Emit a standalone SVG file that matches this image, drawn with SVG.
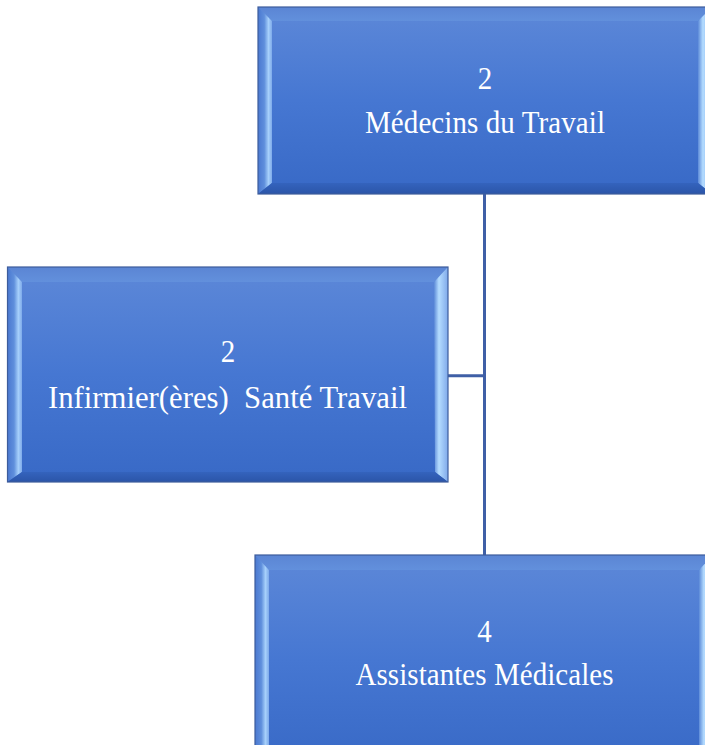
<svg xmlns="http://www.w3.org/2000/svg" width="705" height="745" viewBox="0 0 705 745">
  <defs>
    <linearGradient id="face" x1="0" y1="0" x2="0" y2="1">
      <stop offset="0" stop-color="#5d88d8"/>
      <stop offset="0.5" stop-color="#4677d2"/>
      <stop offset="1" stop-color="#3869c6"/>
    </linearGradient>
    <linearGradient id="bevL" x1="0" y1="0" x2="1" y2="0">
      <stop offset="0" stop-color="#4a78d0"/>
      <stop offset="0.45" stop-color="#5f8fdc"/>
      <stop offset="0.75" stop-color="#a6d0fb"/>
      <stop offset="1" stop-color="#7eaaea"/>
    </linearGradient>
    <linearGradient id="bevR" x1="0" y1="0" x2="1" y2="0">
      <stop offset="0" stop-color="#5c8ad8"/>
      <stop offset="0.35" stop-color="#b4dcff"/>
      <stop offset="1" stop-color="#7fa9ea"/>
    </linearGradient>
    <linearGradient id="bevT" x1="0" y1="0" x2="0" y2="1">
      <stop offset="0" stop-color="#5b85d4"/>
      <stop offset="1" stop-color="#6290dc"/>
    </linearGradient>
    <linearGradient id="bevB" x1="0" y1="0" x2="0" y2="1">
      <stop offset="0" stop-color="#3463bd"/>
      <stop offset="1" stop-color="#2b55a8"/>
    </linearGradient>
  </defs>
  <style>
    .edge { fill: none; stroke: #3d5c9c; stroke-width: 1.2; }
    .lbl { font-family: "Liberation Serif", "Times New Roman", serif; font-size: 29px; fill: #ffffff; text-anchor: middle; white-space: pre; font-variant-ligatures: none; }
    .conn { fill: none; stroke: #3f5fa6; stroke-width: 3; }
  </style>
  <rect width="705" height="745" fill="#ffffff"/>

  <g id="connectors">
    <path class="conn" d="M484.5,193 V556"/>
    <path class="conn" d="M447,375.7 H484.5"/>
  </g>

  <g id="node-medecins">
    <rect x="258" y="7" width="454" height="187" fill="url(#face)"/>
    <polygon points="258,7 712,7 698,21 272,21" fill="url(#bevT)"/>
    <polygon points="258,7 272,21 272,183 258,194" fill="url(#bevL)"/>
    <polygon points="712,7 712,194 698,183 698,21" fill="url(#bevR)"/>
    <polygon points="258,194 272,183 698,183 712,194" fill="url(#bevB)"/>
    <rect class="edge" x="258" y="7" width="454" height="187"/>
    <text class="lbl" transform="translate(485,89.3) scale(1,1.12)">2</text>
    <text class="lbl" transform="translate(485,133.3) scale(1,1.12)" textLength="240">Médecins du Travail</text>
  </g>

  <g id="node-infirmiers">
    <rect x="7.5" y="267" width="440.5" height="215" fill="url(#face)"/>
    <polygon points="7.5,267 448,267 434,282 22,282" fill="url(#bevT)"/>
    <polygon points="7.5,267 22,282 22,472 7.5,482" fill="url(#bevL)"/>
    <polygon points="448,267 448,482 435,472 434,282" fill="url(#bevR)"/>
    <polygon points="7.5,482 22,472 435,472 448,482" fill="url(#bevB)"/>
    <rect class="edge" x="7.5" y="267" width="440.5" height="215"/>
    <text class="lbl" transform="translate(228,361.7) scale(1,1.12)">2</text>
    <text class="lbl" xml:space="preserve" transform="translate(227.5,408) scale(1,1.12)" textLength="359" lengthAdjust="spacingAndGlyphs">Infirmier(ères)  Santé Travail</text>
  </g>

  <g id="node-assistantes">
    <rect x="255" y="555" width="458" height="210" fill="url(#face)"/>
    <polygon points="255,555 713,555 699,570 269,570" fill="url(#bevT)"/>
    <polygon points="255,555 269,570 269,755 255,765" fill="url(#bevL)"/>
    <polygon points="713,555 713,765 699,755 699,570" fill="url(#bevR)"/>
    <rect class="edge" x="255" y="555" width="458" height="210"/>
    <text class="lbl" transform="translate(484.5,641.7) scale(1,1.12)">4</text>
    <text class="lbl" transform="translate(484.5,685) scale(1,1.12)" textLength="258">Assistantes Médicales</text>
  </g>
</svg>
